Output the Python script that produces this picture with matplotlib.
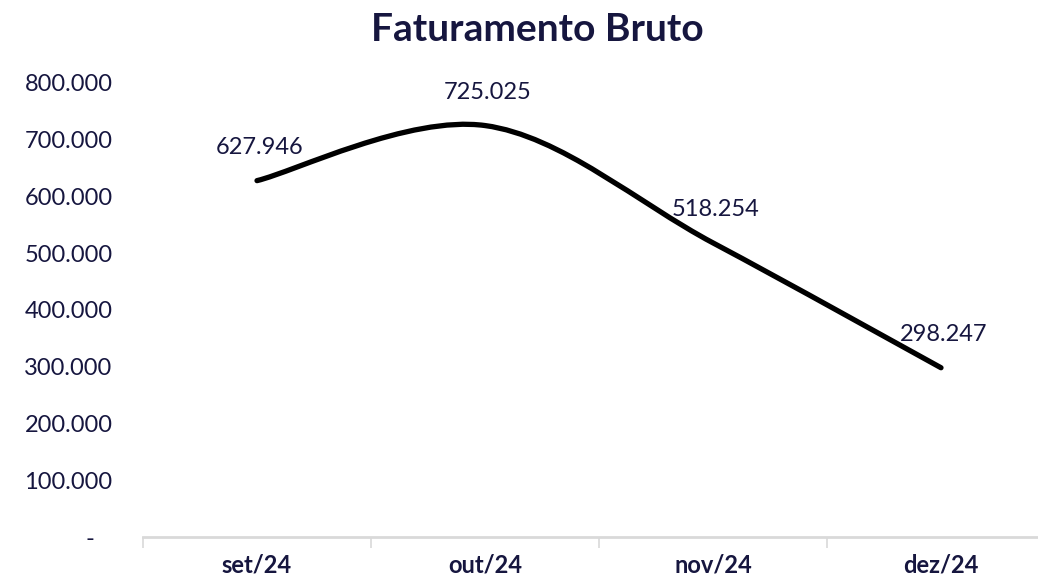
import matplotlib.pyplot as plt
from matplotlib.path import Path
from matplotlib.patches import PathPatch
from matplotlib.ticker import FuncFormatter, FixedLocator

# Data
months = ["set/24", "out/24", "nov/24", "dez/24"]
faturamento = [627946, 725025, 518254, 298247]

text_color = "#16163f"
plt.rcParams['font.family'] = ['Lato', 'DejaVu Sans']

fig = plt.figure(figsize=(10.38, 5.81), dpi=100)
ax = fig.add_axes([143 / 1038, 44 / 581, 912 / 1038, 454 / 581])

x = list(range(len(months)))
y = faturamento

# Smoothed line (Excel-style bezier through the points)
verts = [(x[0], y[0])]
codes = [Path.MOVETO]
n = len(x)
for i in range(n - 1):
    p0 = (x[max(i - 1, 0)], y[max(i - 1, 0)])
    p1 = (x[i], y[i])
    p2 = (x[i + 1], y[i + 1])
    p3 = (x[min(i + 2, n - 1)], y[min(i + 2, n - 1)])
    c1 = (p1[0] + (p2[0] - p0[0]) / 6, p1[1] + (p2[1] - p0[1]) / 6)
    c2 = (p2[0] - (p3[0] - p1[0]) / 6, p2[1] - (p3[1] - p1[1]) / 6)
    verts += [c1, c2, p2]
    codes += [Path.CURVE4] * 3
ax.add_patch(PathPatch(Path(verts, codes), facecolor="none", edgecolor="black",
                       lw=3.8, capstyle="round", joinstyle="round"))

def fmt(v):
    return f"{v:,.0f}".replace(",", ".")

for xi, yi in zip(x, y):
    ax.annotate(fmt(yi), (xi, yi), xytext=(2, 24), textcoords="offset points",
                ha="center", va="center", fontsize=17, color=text_color)

ax.set_xlim(-0.5, 3.5)
ax.set_ylim(0, 800000)
ax.set_yticks(range(0, 800001, 100000))
ax.yaxis.set_major_formatter(FuncFormatter(lambda v, p: "-   " if v == 0 else fmt(v)))
ax.set_xticks(x)
ax.set_xticklabels(months, fontsize=17, fontweight="bold", color=text_color)
ax.xaxis.set_minor_locator(FixedLocator([-0.5, 0.5, 1.5, 2.5]))
ax.tick_params(axis="x", which="major", length=0, pad=12)
ax.tick_params(axis="x", which="minor", length=8, width=1.2, color="#d9d9d9")
ax.tick_params(axis="y", length=0, pad=22, labelsize=17, labelcolor=text_color)

for s in ["top", "right", "left"]:
    ax.spines[s].set_visible(False)
ax.spines["bottom"].set_color("#d9d9d9")
ax.spines["bottom"].set_linewidth(2)

fig.text(0.518, 0.95, "Faturamento Bruto", ha="center", va="center",
         fontsize=28, fontweight="bold", color=text_color)

plt.savefig("out.png", dpi=100)
